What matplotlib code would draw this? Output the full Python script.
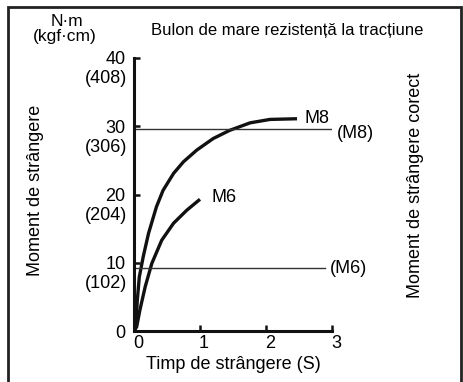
import matplotlib.pyplot as plt
from matplotlib.patches import Rectangle
from matplotlib.transforms import ScaledTranslation

plt.rcParams['font.family'] = ['Liberation Sans', 'DejaVu Sans']

# curve data
m8_time = [0, 0.03, 0.05, 0.08, 0.14, 0.22, 0.34, 0.44, 0.60, 0.75, 0.95,
           1.20, 1.45, 1.76, 2.06, 2.47]
m8_torque = [0, 1.1, 4.5, 7.9, 10.9, 14.3, 18.2, 20.6, 23.1, 24.8, 26.5,
             28.2, 29.4, 30.5, 31.0, 31.1]
m6_time = [0, 0.04, 0.09, 0.17, 0.27, 0.42, 0.60, 0.80, 1.0]
m6_torque = [0, 0.6, 3.1, 6.5, 9.9, 13.3, 15.8, 17.7, 19.3]

# correct tightening torque levels
correct_m8 = 29.6
correct_m6 = 9.3

y_ticks = [0, 10, 20, 30, 40]
y_kgf = ['', '(102)', '(204)', '(306)', '(408)']
x_ticks = [0, 1, 2, 3]

W, H = 463, 382
fig = plt.figure(figsize=(W / 100, H / 100), dpi=100)
ax = fig.add_axes([134 / W, 1 - 331 / H, (332 - 134) / W, (331 - 58) / H])

ax.plot(m8_time, m8_torque, color='#111111', lw=2.4, solid_capstyle='butt')
ax.plot(m6_time, m6_torque, color='#111111', lw=2.4, solid_capstyle='butt')
ax.plot([0, 3], [correct_m8, correct_m8], color='#333333', lw=1)
ax.plot([0, 2.9], [correct_m6, correct_m6], color='#333333', lw=1)

fs = 13
ax.text(2.59, 31.2, 'M8', fontsize=fs, va='center')
ax.text(3.08, 28.9, '(M8)', fontsize=fs, va='center')
ax.text(1.18, 19.5, 'M6', fontsize=fs, va='center')
ax.text(2.97, 9.2, '(M6)', fontsize=fs, va='center')

ax.set_xlim(0, 3)
ax.set_ylim(0, 40)
for s in ['top', 'right']:
    ax.spines[s].set_visible(False)
for s in ['left', 'bottom']:
    ax.spines[s].set_linewidth(2.2)
    ax.spines[s].set_color('#111111')

ax.set_xticks(x_ticks)
ax.set_xticklabels([str(t) for t in x_ticks], fontsize=fs)
ax.set_yticks(y_ticks)
ax.set_yticklabels([str(t) for t in y_ticks], fontsize=fs)
ax.tick_params(direction='in', length=4, width=1.8, color='#111111', pad=6)
ax.tick_params(axis='x', pad=3)
shift = ScaledTranslation(4 / 100, 0, fig.dpi_scale_trans)
for lab in ax.get_xticklabels():
    lab.set_transform(lab.get_transform() + shift)

for t, lab in zip(y_ticks, y_kgf):
    ax.annotate(lab, xy=(0, t), xytext=(-5, -15), textcoords='offset points',
                ha='right', va='center', fontsize=fs)

ax.set_xlabel('Timp de strângere (S)', fontsize=fs, labelpad=3)

fig.text(67 / W, 1 - 22 / H, 'N·m', ha='center', va='center', fontsize=12.5)
fig.text(65 / W, 1 - 37 / H, '(kgf·cm)', ha='center', va='center', fontsize=12.5)
fig.text(287 / W, 1 - 30 / H, 'Bulon de mare rezistență la tracțiune',
         ha='center', va='center', fontsize=12)
fig.text(36 / W, 1 - 190 / H, 'Moment de strângere', rotation=90,
         ha='center', va='center', fontsize=fs)
fig.text(415 / W, 1 - 185 / H, 'Moment de strângere corect', rotation=90,
         ha='center', va='center', fontsize=fs)

fig.patches.append(Rectangle((8 / W, -0.1), (461 - 8) / W, 1.1 - 7 / H,
                             transform=fig.transFigure, fill=False,
                             lw=2, edgecolor='#222222'))

fig.savefig('out.png', dpi=100)
